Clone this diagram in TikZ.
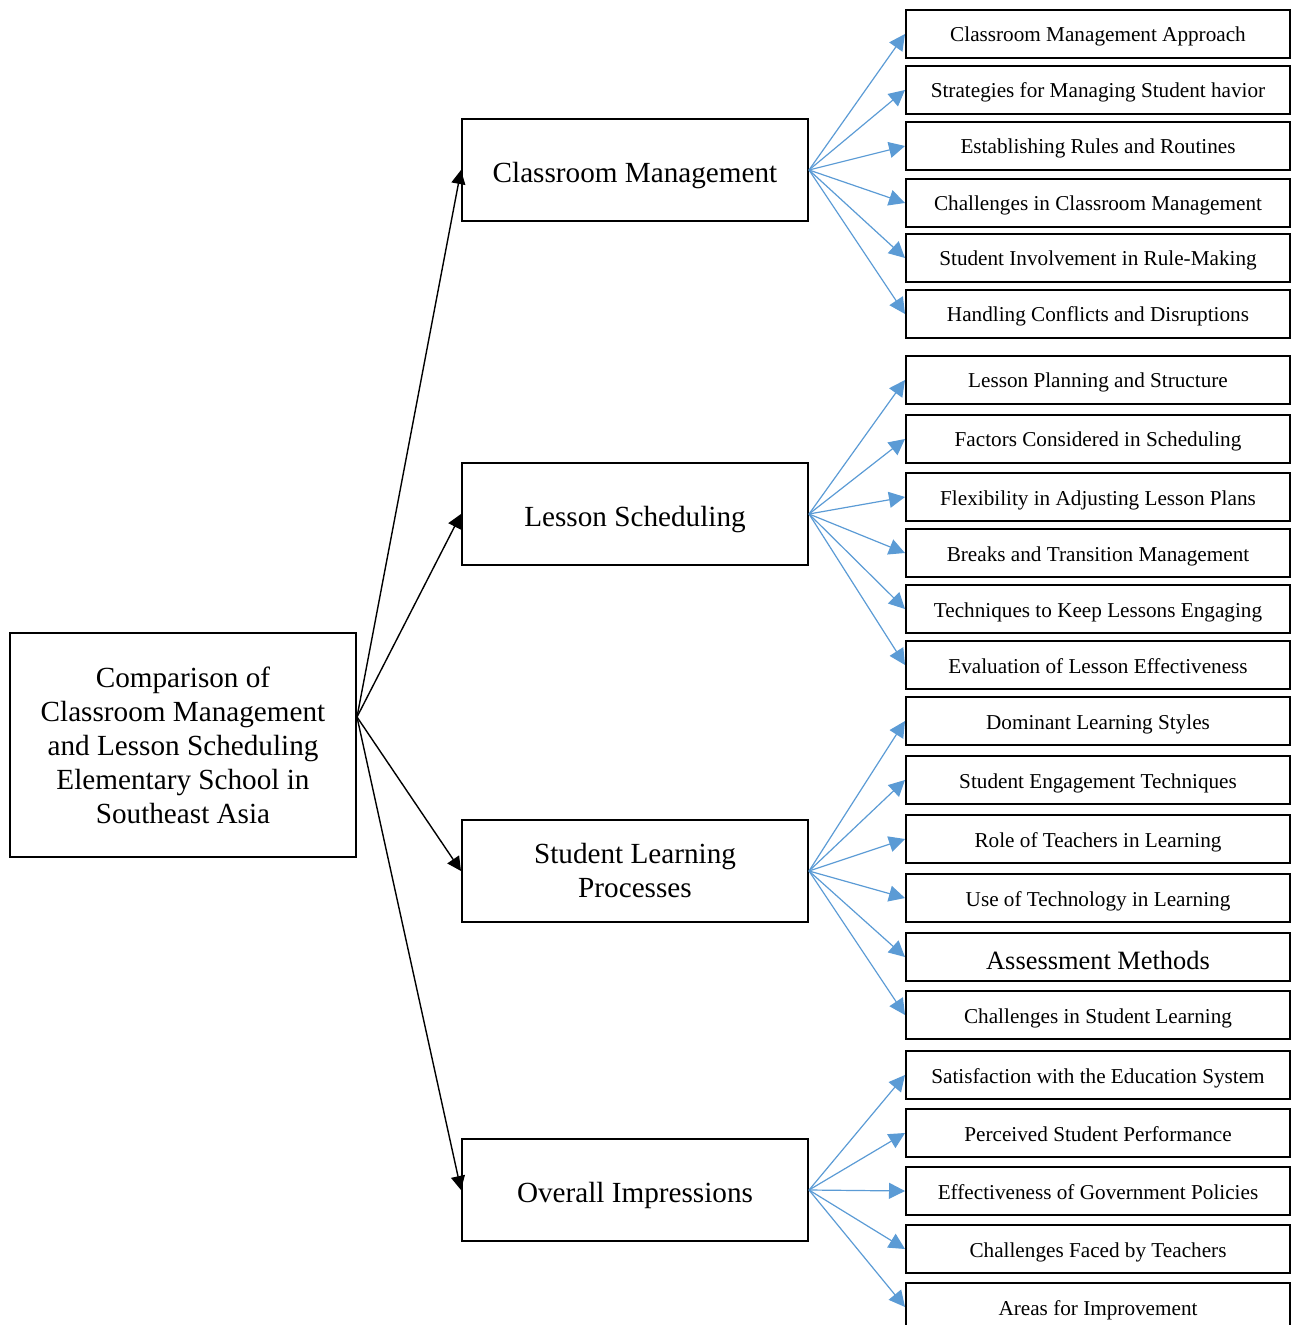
\documentclass[tikz,border=0pt]{standalone}
\usepackage{fontspec}
\setmainfont{Liberation Serif}
\usetikzlibrary{arrows.meta,calc}
\definecolor{arrowblue}{RGB}{91,155,213}
\begin{document}
\begin{tikzpicture}[x=0.5pt,y=-0.5pt,
  rootbox/.style={draw=black,line width=1pt,minimum width=173pt,minimum height=112pt,inner sep=0pt,align=center,font=\fontsize{14.6}{17}\selectfont},
  midbox/.style={draw=black,line width=1pt,minimum width=173pt,minimum height=51pt,inner sep=0pt,align=center,font=\fontsize{14.6}{17}\selectfont},
  midone/.style={midbox,text height=12.8pt,text depth=0pt},
  leafbox/.style={draw=black,line width=1pt,minimum width=192pt,minimum height=24pt,inner sep=0pt,align=center,font=\fontsize{10.6}{12}\selectfont,text height=8pt,text depth=0pt},
  blk/.style={-{Triangle[length=7pt,width=7pt]},line width=0.7pt,black},
  blu/.style={-{Triangle[length=8pt,width=8pt]},line width=0.6pt,arrowblue}]
\useasboundingbox (0,0) rectangle (1291,1325);
\node[rootbox] (root) at (183,745) {Comparison of\\Classroom Management\\and Lesson Scheduling\\Elementary School in\\Southeast Asia};
\node[midone] (cm) at (635,170) {Classroom Management};
\node[midone] (ls) at (635,514) {Lesson Scheduling};
\node[midbox] (sl) at (635,871) {Student Learning\\Processes};
\node[midone] (oi) at (635,1190) {Overall Impressions};
\coordinate (ro) at ($(root.east)+(0,-28)$);
\foreach \t in {cm,ls,sl,oi} \draw[blk] (ro) -- (\t.west);
% leaves
\node[leafbox] (a1) at (1098,34) {Classroom Management Approach};
\node[leafbox] (a2) at (1098,90) {Strategies for Managing Student havior};
\node[leafbox] (a3) at (1098,146) {Establishing Rules and Routines};
\node[leafbox] (a4) at (1098,203) {Challenges in Classroom Management};
\node[leafbox] (a5) at (1098,258) {Student Involvement in Rule-Making};
\node[leafbox] (a6) at (1098,314) {Handling Conflicts and Disruptions};
\node[leafbox] (b1) at (1098,380) {Lesson Planning and Structure};
\node[leafbox] (b2) at (1098,439) {Factors Considered in Scheduling};
\node[leafbox] (b3) at (1098,497) {Flexibility in Adjusting Lesson Plans};
\node[leafbox] (b4) at (1098,553) {Breaks and Transition Management};
\node[leafbox] (b5) at (1098,609) {Techniques to Keep Lessons Engaging};
\node[leafbox] (b6) at (1098,665) {Evaluation of Lesson Effectiveness};
\node[leafbox] (c1) at (1098,721) {Dominant Learning Styles};
\node[leafbox] (c2) at (1098,780) {Student Engagement Techniques};
\node[leafbox] (c3) at (1098,839) {Role of Teachers in Learning};
\node[leafbox] (c4) at (1098,898) {Use of Technology in Learning};
\node[leafbox,font=\fontsize{13.2}{15}\selectfont,text height=12pt] (c5) at (1098,957) {Assessment Methods};
\node[leafbox] (c6) at (1098,1015) {Challenges in Student Learning};
\node[leafbox] (d1) at (1098,1075) {Satisfaction with the Education System};
\node[leafbox] (d2) at (1098,1133) {Perceived Student Performance};
\node[leafbox] (d3) at (1098,1191) {Effectiveness of Government Policies};
\node[leafbox] (d4) at (1098,1249) {Challenges Faced by Teachers};
\node[leafbox] (d5) at (1098,1307) {Areas for Improvement};
\foreach \t in {a1,a2,a3,a4,a5,a6} \draw[blu] (cm.east) -- (\t.west);
\foreach \t in {b1,b2,b3,b4,b5,b6} \draw[blu] (ls.east) -- (\t.west);
\foreach \t in {c1,c2,c3,c4,c5,c6} \draw[blu] (sl.east) -- (\t.west);
\foreach \t in {d1,d2,d3,d4,d5} \draw[blu] (oi.east) -- (\t.west);
\end{tikzpicture}
\end{document}
